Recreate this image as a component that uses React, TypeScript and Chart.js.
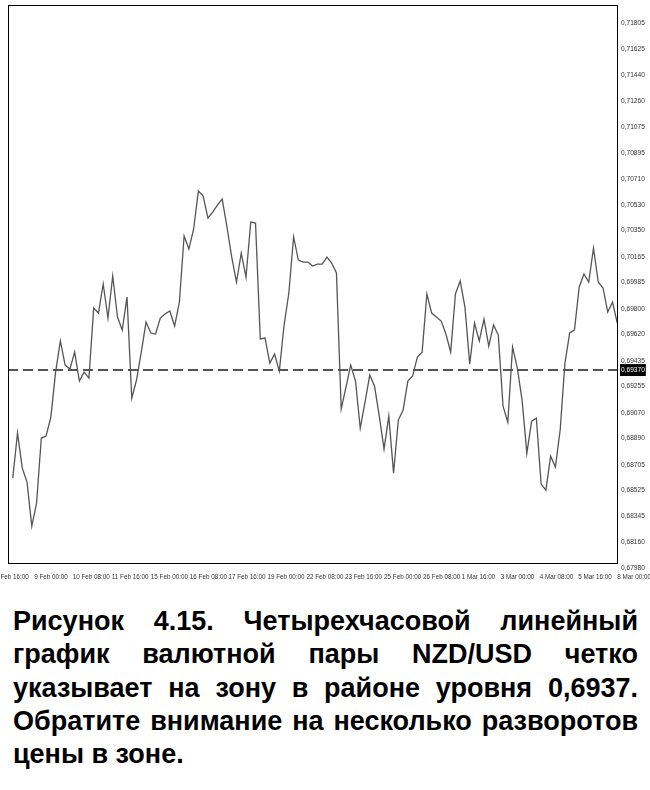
import React, { useEffect, useRef } from 'react';
import { Chart, registerables } from 'chart.js';
Chart.register(...registerables);

// NZD/USD 4-hour close prices
const prices = [
  0.68612, 0.68928, 0.68682, 0.68584, 0.68275, 0.68436, 0.68893, 0.68907, 0.69040, 0.69356,
  0.69574, 0.69405, 0.69377, 0.69496, 0.69293, 0.69356, 0.69314, 0.69805, 0.69770, 0.69974,
  0.69735, 0.70030, 0.69742, 0.69651, 0.69882, 0.69173, 0.69300, 0.69496, 0.69707, 0.69630,
  0.69623, 0.69735, 0.69763, 0.69784, 0.69679, 0.69847, 0.70311, 0.70219, 0.70360, 0.70627,
  0.70591, 0.70437, 0.70479, 0.70528, 0.70570, 0.70374, 0.70163, 0.69988, 0.70191, 0.70023,
  0.70409, 0.70402, 0.69588, 0.69595, 0.69419, 0.69482, 0.69363, 0.69686, 0.69911, 0.70304,
  0.70142, 0.70128, 0.70128, 0.70100, 0.70114, 0.70114, 0.70163, 0.70121, 0.70051, 0.69096,
  0.69251, 0.69405, 0.69293, 0.68963, 0.69145, 0.69335, 0.69258, 0.69047, 0.68815, 0.69047,
  0.68647, 0.69019, 0.69089, 0.69293, 0.69328, 0.69461, 0.69496, 0.69904, 0.69770, 0.69742,
  0.69714, 0.69623, 0.69496, 0.69904, 0.69995, 0.69812, 0.69412, 0.69700, 0.69574, 0.69728,
  0.69538, 0.69686, 0.69616, 0.69117, 0.69005, 0.69531, 0.69384, 0.69159, 0.68787, 0.69012,
  0.69033, 0.68570, 0.68528, 0.68766, 0.68689, 0.68949, 0.69419, 0.69630, 0.69651, 0.69953,
  0.70044, 0.69988, 0.70226, 0.69988, 0.69946, 0.69777, 0.69847, 0.69700,
];

const zoneLevel = 0.6937;

const yTickValues = [
  0.71805, 0.71625, 0.7144, 0.7126, 0.71075, 0.70895, 0.7071, 0.7053, 0.7035, 0.70165,
  0.69985, 0.698, 0.6962, 0.69435, 0.69255, 0.6907, 0.6889, 0.68705, 0.68525, 0.68345,
  0.6816, 0.6798, 0.6937,
];

const xTickLabels = [
  '8 Feb 16:00', '9 Feb 00:00', '10 Feb 08:00', '11 Feb 16:00', '15 Feb 00:00', '16 Feb 08:00',
  '17 Feb 16:00', '19 Feb 00:00', '22 Feb 08:00', '23 Feb 16:00', '25 Feb 00:00', '26 Feb 08:00',
  '1 Mar 16:00', '3 Mar 00:00', '4 Mar 08:00', '5 Mar 16:00', '8 Mar 00:00',
];
// bar index (in 4-hour steps) at which each date label starts
const xTickBars = [
  -3.7, 4.5, 12.6, 20.8, 29.0, 37.2, 45.3, 53.5, 61.7, 69.8, 78.0, 86.2, 94.3, 102.5, 110.7, 118.8, 127.0,
];

const captionLines = [
  'Рисунок 4.15. Четырехчасовой линейный',
  'график валютной пары NZD/USD четко',
  'указывает на зону в районе уровня 0,6937.',
  'Обратите внимание на несколько разворотов',
  'цены в зоне.',
];

const X_MIN = -1;
const X_MAX = 127.15;
const Y_MIN = 0.68016;
const Y_MAX = 0.71932;
const FONT = "'Liberation Sans', Arial, sans-serif";

const framePlugin = {
  id: 'frame',
  afterDraw(chart: any) {
    const { ctx, chartArea: a } = chart;
    ctx.save();
    ctx.strokeStyle = '#000';
    ctx.lineWidth = 1;
    ctx.strokeRect(a.left + 0.5, a.top + 0.5, a.right - a.left - 1, a.bottom - a.top);
    ctx.restore();
  },
};

export default function App() {
  const ref = useRef<HTMLCanvasElement>(null);
  useEffect(() => {
    const chart = new Chart(ref.current!, {
      type: 'line',
      data: {
        datasets: [
          {
            data: prices.map((p, i) => ({ x: i, y: p })),
            borderColor: '#555555',
            borderWidth: 1.3,
            pointRadius: 0,
            tension: 0,
          },
          {
            data: [
              { x: X_MIN, y: zoneLevel },
              { x: X_MAX, y: zoneLevel },
            ],
            borderColor: '#555',
            borderWidth: 2,
            borderDash: [10, 5],
            pointRadius: 0,
          },
        ],
      },
      options: {
        animation: false,
        responsive: false,
        maintainAspectRatio: false,
        layout: { padding: { left: 8, top: 5, right: 0, bottom: 0 } },
        plugins: { legend: { display: false }, tooltip: { enabled: false } },
        scales: {
          x: {
            type: 'linear',
            min: X_MIN,
            max: X_MAX,
            afterBuildTicks: (s: any) => {
              s.ticks = xTickBars.map((v) => ({ value: v }));
            },
            afterFit: (s: any) => {
              s.height = 27;
              s.paddingLeft = 0;
              s.paddingRight = 0;
              s.paddingTop = 0;
              s.paddingBottom = 0;
            },
            grid: { display: false, drawTicks: false },
            border: { display: false },
            ticks: {
              autoSkip: false,
              maxRotation: 0,
              minRotation: 0,
              align: 'start',
              padding: 10,
              color: '#333',
              font: { family: FONT, size: 6.3 },
              callback: (_v: any, i: number) => xTickLabels[i],
            },
          },
          y: {
            type: 'linear',
            position: 'right',
            min: Y_MIN,
            max: Y_MAX,
            afterBuildTicks: (s: any) => {
              s.ticks = yTickValues.map((v) => ({ value: v }));
            },
            afterFit: (s: any) => {
              s.width = 32;
              s.paddingLeft = 0;
              s.paddingRight = 0;
              s.paddingTop = 0;
              s.paddingBottom = 0;
            },
            grid: { display: false, drawTicks: false },
            border: { display: false },
            ticks: {
              autoSkip: false,
              padding: 3,
              font: { family: FONT, size: 6.6 },
              color: (c: any) => (c.tick && c.tick.value === zoneLevel ? '#fff' : '#333'),
              showLabelBackdrop: (c: any) => !!(c.tick && c.tick.value === zoneLevel),
              backdropColor: '#000',
              backdropPadding: { x: 1, y: 2 },
              callback: (v: any) => Number(v).toFixed(5).replace('.', ','),
            },
          },
        },
      },
      plugins: [framePlugin],
    } as any);
    return () => chart.destroy();
  }, []);

  return (
    <div style={{ position: 'absolute', left: 0, top: 0, width: 650, height: 790, background: '#fff' }}>
      <canvas ref={ref} width={650} height={590} style={{ display: 'block', width: 650, height: 590 }} />
      <div
        style={{
          position: 'absolute',
          left: 13,
          top: 605,
          width: 625,
          fontFamily: FONT,
          fontWeight: 'bold',
          fontSize: 27,
          lineHeight: '33.3px',
          color: '#000',
        }}
      >
        {captionLines.map((line, i) => {
          const last = i === captionLines.length - 1;
          return (
            <div
              key={i}
              style={{
                whiteSpace: 'nowrap',
                textAlign: 'justify',
                textAlignLast: last ? 'left' : 'justify',
                wordSpacing: last ? 0 : -4,
              }}
            >
              {line}
            </div>
          );
        })}
      </div>
    </div>
  );
}
